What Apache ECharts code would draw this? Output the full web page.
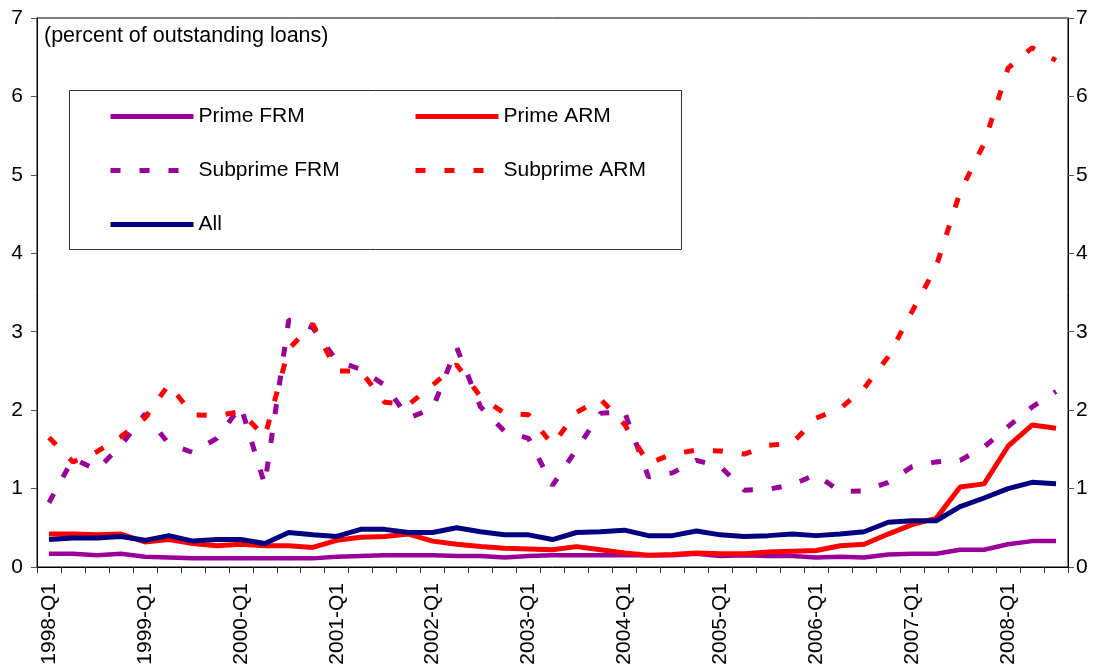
<!DOCTYPE html>
<html>
<head>
<meta charset="utf-8">
<script src="https://cdn.jsdelivr.net/npm/echarts@6/dist/echarts.min.js"></script>
<style>
  html, body { margin: 0; padding: 0; background: #fff; }
  #main { width: 1102px; height: 671px; }
</style>
</head>
<body>
<div id="main"></div>
<script>
// quarters 1998-Q1 .. 2008-Q3
const quarters = [
  '1998-Q1','1998-Q2','1998-Q3','1998-Q4',
  '1999-Q1','1999-Q2','1999-Q3','1999-Q4',
  '2000-Q1','2000-Q2','2000-Q3','2000-Q4',
  '2001-Q1','2001-Q2','2001-Q3','2001-Q4',
  '2002-Q1','2002-Q2','2002-Q3','2002-Q4',
  '2003-Q1','2003-Q2','2003-Q3','2003-Q4',
  '2004-Q1','2004-Q2','2004-Q3','2004-Q4',
  '2005-Q1','2005-Q2','2005-Q3','2005-Q4',
  '2006-Q1','2006-Q2','2006-Q3','2006-Q4',
  '2007-Q1','2007-Q2','2007-Q3','2007-Q4',
  '2008-Q1','2008-Q2','2008-Q3'
];

// delinquency rates, percent of outstanding loans
const primeFRM = [
  0.17, 0.17, 0.15, 0.17, 0.13, 0.12, 0.11, 0.11, 0.11, 0.11, 0.11,
  0.11, 0.13, 0.14, 0.15, 0.15, 0.15, 0.14, 0.14, 0.12, 0.14, 0.15,
  0.15, 0.15, 0.15, 0.15, 0.15, 0.17, 0.14, 0.15, 0.14, 0.14, 0.12,
  0.13, 0.12, 0.16, 0.17, 0.17, 0.22, 0.22, 0.29, 0.33, 0.33
];
const primeARM = [
  0.42, 0.42, 0.41, 0.42, 0.32, 0.35, 0.30, 0.27, 0.29, 0.27, 0.27,
  0.25, 0.34, 0.38, 0.39, 0.42, 0.33, 0.29, 0.26, 0.24, 0.23, 0.22,
  0.26, 0.22, 0.18, 0.15, 0.16, 0.18, 0.17, 0.17, 0.19, 0.20, 0.21,
  0.27, 0.29, 0.42, 0.54, 0.62, 1.02, 1.06, 1.54, 1.81, 1.77
];
const subprimeFRM = [
  0.82, 1.38, 1.24, 1.55, 1.95, 1.57, 1.46, 1.64, 2.05, 1.05, 3.15,
  3.05, 2.63, 2.52, 2.32, 1.90, 2.02, 2.80, 2.04, 1.73, 1.64, 1.04,
  1.50, 1.96, 1.98, 1.15, 1.20, 1.36, 1.28, 0.98, 0.99, 1.05, 1.18,
  0.96, 0.97, 1.08, 1.28, 1.34, 1.36, 1.53, 1.79, 2.04, 2.24
];
const subprimeARM = [
  1.65, 1.34, 1.47, 1.66, 1.90, 2.33, 1.94, 1.93, 1.98, 1.66, 2.78,
  3.10, 2.50, 2.50, 2.10, 2.07, 2.32, 2.58, 2.17, 1.96, 1.94, 1.56,
  1.97, 2.14, 1.82, 1.32, 1.44, 1.49, 1.48, 1.44, 1.55, 1.58, 1.90,
  2.02, 2.28, 2.68, 3.26, 3.83, 4.78, 5.40, 6.36, 6.62, 6.46
];
const allLoans = [
  0.35, 0.37, 0.37, 0.39, 0.34, 0.40, 0.33, 0.35, 0.35, 0.30, 0.44,
  0.41, 0.39, 0.48, 0.48, 0.44, 0.44, 0.50, 0.45, 0.41, 0.41, 0.35,
  0.44, 0.45, 0.47, 0.40, 0.40, 0.46, 0.41, 0.39, 0.40, 0.42, 0.40,
  0.42, 0.45, 0.57, 0.59, 0.59, 0.77, 0.88, 1.00, 1.08, 1.06
];
const yTicks = [0, 1, 2, 3, 4, 5, 6, 7];

const FONT = '"Liberation Sans", Arial, sans-serif';
const FS = 21;
const PURPLE = '#990099';
const RED = '#ff0000';
const NAVY = '#000080';
const DASH = [10, 19];

const chart = echarts.init(document.getElementById('main'), null, { renderer: 'canvas' });

// y axis settings, left and right are mirrors
function yAxisCfg(position, margin) {
  return {
    type: 'value',
    position: position,
    min: yTicks[0],
    max: yTicks[yTicks.length - 1],
    interval: 1,
    axisLine: { show: true, lineStyle: { color: '#000', width: 1 } },
    axisTick: { show: true, inside: false, length: 6, lineStyle: { color: '#555' } },
    axisLabel: { fontFamily: FONT, fontSize: FS, color: '#000', margin: margin },
    splitLine: { show: false }
  };
}

function lineSeries(name, data, color, width, dashed, z) {
  return {
    name: name,
    type: 'line',
    data: data,
    symbol: 'none',
    smooth: false,
    z: z,
    lineStyle: { color: color, width: width, type: dashed ? DASH : 'solid', cap: 'butt' },
    itemStyle: { color: color },
    emphasis: { disabled: true }
  };
}

// legend: two columns, line samples only (symbol hidden)
function legendCol(left, names) {
  return {
    orient: 'vertical',
    left: left, top: 106,
    padding: 0,
    itemWidth: 83, itemHeight: 20, itemGap: 33,
    data: names,
    textStyle: { fontFamily: FONT, fontSize: FS, color: '#000' },
    itemStyle: { opacity: 0 },
    lineStyle: { width: 5 },
    selectedMode: false,
    z: 5
  };
}

const option = {
  animation: false,
  backgroundColor: '#fff',
  textStyle: { fontFamily: FONT },
  title: {
    text: '(percent of outstanding loans)',
    left: 44,
    top: 25,
    padding: 0,
    textStyle: { fontFamily: FONT, fontSize: 21.5, fontWeight: 'normal', color: '#000' }
  },
  grid: {
    left: 37, right: 34, top: 18, bottom: 104,
    show: true, borderColor: '#000', borderWidth: 1, backgroundColor: 'transparent'
  },
  graphic: [{
    type: 'rect',
    z: 1,
    shape: { x: 69.5, y: 90.5, width: 612, height: 159 },
    style: { fill: '#fff', stroke: '#333', lineWidth: 1 }
  }],
  legend: [
    legendCol(108, ['Prime FRM', 'Subprime FRM', 'All']),
    legendCol(413, ['Prime ARM', 'Subprime ARM'])
  ],
  xAxis: {
    type: 'category',
    data: quarters,
    boundaryGap: true,
    axisLine: { show: true, lineStyle: { color: '#000', width: 1 } },
    axisTick: { show: true, interval: 0, length: 6, lineStyle: { color: '#333' } },
    axisLabel: {
      interval: 3,
      rotate: 90,
      margin: 16,
      fontFamily: FONT,
      fontSize: FS,
      color: '#000'
    },
    splitLine: { show: false }
  },
  yAxis: [yAxisCfg('left', 14), yAxisCfg('right', 8)],
  series: [
    lineSeries('Prime FRM', primeFRM, PURPLE, 4.5, false, 2),
    lineSeries('Prime ARM', primeARM, RED, 5, false, 2),
    lineSeries('Subprime FRM', subprimeFRM, PURPLE, 5, true, 3),
    lineSeries('Subprime ARM', subprimeARM, RED, 5, true, 3),
    lineSeries('All', allLoans, NAVY, 5, false, 4)
  ]
};

chart.setOption(option);
</script>
</body>
</html>
